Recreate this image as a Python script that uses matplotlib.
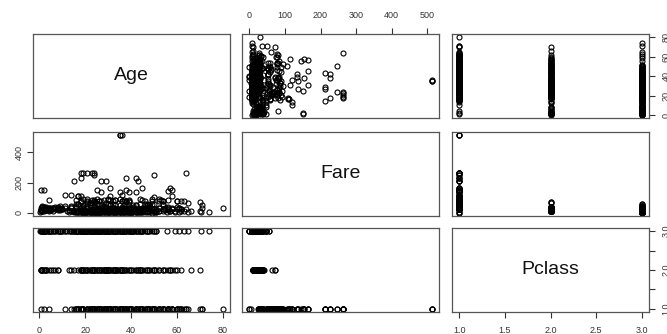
import matplotlib
matplotlib.use("Agg")
import matplotlib.pyplot as plt
import numpy as np

plt.rcParams['font.family'] = ['Liberation Sans', 'DejaVu Sans']

# Passengers with a known age (age, fare) per class
age_c1 = [35, 36, 35, 19, 23, 24, 64, 18, 21, 24, 50, 27, 29, 15, 43, 18, 38, 42,
          0.92, 2, 25, 4, 11, 14, 36, 31, 45, 58, 56, 38, 35, 39, 42, 80, 70, 71,
          71, 65, 62, 62, 60, 60, 61, 61, 63, 64, 58, 58, 56, 56, 56, 54, 54, 54,
          52, 52, 52, 50, 50, 50, 49, 49, 49, 49, 48, 48, 48, 47, 47, 47, 45, 45,
          44, 44, 44, 42, 42, 40, 40, 40, 39, 39, 39, 38, 38, 37, 37, 37, 36, 36,
          36, 35, 35, 35, 34, 33, 33, 33, 32, 32, 31, 31, 31, 31, 30, 30, 30, 30,
          29, 29, 28, 28, 27, 27, 26, 26, 25, 25, 25, 24, 24, 24, 23, 23, 22, 22,
          22, 21, 21, 19, 19, 19, 19, 18, 18, 17, 17, 17, 16, 16, 16, 46, 53, 41,
          33, 28, 26, 21, 43, 47, 57,
          17, 22, 24, 26, 28, 30, 32, 34, 36, 38,
          40, 42, 44, 46, 48, 50, 52, 54, 56, 58,
          60, 45, 39, 33, 27, 31, 47, 51, 55, 62]
fare_c1 = [512.3, 512.3, 512.3, 263, 263, 263, 263, 262.4, 262.4, 247.5, 247.5, 211.5,
           211.3, 211.3, 211.3, 227.5, 227.5, 227.5, 151.6, 151.6, 151.6, 81.9, 120,
           120, 120, 164.9, 164.9, 153.5, 146.5, 153.5, 135.6, 134.5, 134.5, 30, 71,
           49.5, 34.7, 62, 80, 26.6, 79.2, 75.3, 32.3, 33.5, 78, 26, 26.6, 29.7, 30.7,
           35.5, 83.2, 51.9, 77.3, 78.3, 30.5, 78.3, 93.5, 28.7, 55.9, 106.4, 25.9,
           56.9, 76.7, 89.1, 25.9, 39.6, 52, 25.6, 34, 52, 26.6, 83.5, 27.7, 58,
           90, 26.3, 52.6, 0, 27.7, 31, 0, 79.7, 83.2, 71.3, 80, 29.7, 53.1, 83.2,
           26.4, 75.2, 78.9, 26.3, 53.1, 90, 26.6, 5, 27.7, 53.1, 30.5, 76.3, 50.5,
           57, 83.2, 113.3, 31, 56.9, 86.5, 93.5, 30, 66.6, 47.1, 82.2, 30.5, 136.8,
           30, 78.9, 26, 55.4, 91.1, 49.5, 69.3, 79.2, 63.4, 82.3, 49.5, 55, 66.6,
           78, 61.4, 26.3, 30, 53.1, 91.1, 108.9, 79.7, 57, 108.9, 110.9, 39.4, 58,
           86.5, 61.2, 81.9, 52.6, 86.5, 39.6, 30.5, 89.1, 27.7, 51.5, 164.9,
           57, 66.6, 83.2, 78.9, 35.5, 27.8, 30.5, 26.6, 40.1, 79.7,
           27.7, 52, 26.6, 79.2, 52, 26, 30.5, 59.4, 26.6, 113.3,
           26.6, 30, 71.3, 86.5, 76.7, 26, 61.2, 26.6, 30, 26.6]

age_c2 = [0.67, 0.83, 0.83, 1, 1, 2, 2, 3, 3, 3, 4, 5, 6, 7, 8, 8, 13, 14, 15, 17,
          18, 18, 18, 19, 19, 20, 21, 21, 22, 23, 23, 24, 24, 24, 25, 25, 26, 27, 27,
          28, 28, 28, 29, 29, 30, 30, 30, 31, 32, 32, 32.5, 33, 34, 34, 34, 35, 35,
          36, 36, 36, 37, 39, 40, 41, 42, 42, 43, 44, 45, 46, 47, 48, 48, 50, 50, 51,
          52, 54, 54, 57, 57, 59, 60, 62, 66, 70, 26, 31, 38, 44, 23, 19, 29, 33,
          20, 22, 24, 25, 27, 29, 30, 31, 33, 35,
          37, 38, 39, 40, 43, 45, 47, 49, 50, 55,
          56, 58, 24, 28, 32, 36, 18, 21, 44, 52]
fare_c2 = [14.5, 29, 18.8, 39, 37, 26, 39, 26, 41.6, 18.8, 23, 27.8, 33, 26.3, 26.3,
           36.8, 19.5, 30.1, 13.5, 10.5, 11.5, 13, 73.5, 26, 36.8, 10.5, 73.5, 11.5,
           10.5, 13, 15.1, 13, 27, 65, 13, 26, 13, 10.5, 21, 13, 26, 33, 21, 26, 13,
           21, 12.4, 26.3, 10.5, 13, 30.1, 12.3, 13, 21, 23, 26, 10.5, 13, 26, 27.8,
           26, 26, 13, 19.5, 13, 27, 26.3, 26, 13.5, 26, 15, 13, 36.8, 10.5, 26, 12.5,
           13.5, 14, 26, 10.5, 13, 13.5, 39, 10.5, 10.5, 10.5, 26, 21, 13, 26, 21,
           13, 10.5, 26,
           13, 21, 26, 13, 26, 10.5, 13, 21, 26, 13,
           13, 13, 26, 26, 21, 26, 13, 26, 13, 16,
           16, 26, 15.7, 16, 26, 13, 13, 11.5, 13, 13]

age_c3 = [0.42, 0.75, 0.75, 1, 1, 1, 1, 2, 2, 2, 2, 2, 3, 3, 3, 4, 4, 4, 4, 4, 5,
          5, 6, 6, 7, 7, 8, 8, 9, 9, 9, 9, 10, 10, 11, 11, 12, 13, 14, 14, 14, 14.5,
          15, 15, 16, 16, 16, 16, 17, 17, 17, 18, 18, 18, 18, 19, 19, 19, 20, 20, 20,
          21, 21, 21, 22, 22, 22, 23, 23, 24, 24, 24, 25, 25, 25, 26, 26, 26, 27, 27,
          27, 28, 28, 28, 29, 29, 29, 30, 30, 30, 31, 31, 32, 32, 32, 33, 33, 34, 34,
          34, 35, 35, 36, 36, 37, 37, 38, 38, 39, 39, 39, 40, 40, 40, 41, 41, 41, 42,
          42, 43, 43, 44, 44, 45, 45, 45, 46, 47, 47, 48, 48, 49, 50, 51, 51, 55.5,
          59, 61, 63, 65, 70.5, 74, 40.5, 36, 25, 19, 20, 22, 24, 26, 28, 30, 32,
          18, 21, 23, 25, 27, 29, 31, 33, 35, 37, 20.5, 22.5, 24.5, 26.5, 28.5, 30.5,
          16, 17, 18, 19, 20, 21, 22, 23, 24, 25,
          26, 27, 28, 29, 30, 31, 32, 33, 34, 35,
          36, 37, 38, 39, 40, 42, 44, 45, 47, 50,
          18, 20, 22, 24, 26, 28, 30, 33, 36, 41]
fare_c3 = [8.5, 19.3, 19.3, 11.1, 12.2, 46.9, 20.6, 29.1, 31.3, 10.5, 27.9, 39.7,
           31.4, 15.9, 21.1, 16.7, 29.1, 31.3, 22, 11.1, 19.3, 31.4, 31.3, 12.5, 39.7,
           29.1, 21.1, 29.1, 31.3, 46.9, 27.9, 20.5, 27.9, 24.2, 46.9, 31.3, 11.2,
           7.2, 46.9, 11.2, 39.7, 14.5, 7.2, 14.5, 46.9, 7.8, 9.5, 34.4, 7.2, 14.5,
           8.7, 7.8, 14.5, 17.8, 9.4, 7.9, 8.1, 14.5, 7.9, 9.8, 8.1, 7.8, 8.1, 34.4,
           7.3, 7.8, 9.4, 7.6, 9.2, 7.5, 8.9, 16.7, 7.1, 7.7, 17.8, 7.9, 14.5, 56.5,
           7, 7.8, 11.1, 7.9, 8.1, 22.5, 7.8, 9.5, 10.5, 7.2, 8.7, 24.2, 7.8, 18, 7.9,
           8.1, 56.5, 7.9, 15.9, 6.5, 8.1, 14.4, 7.1, 8.1, 7.9, 15.6, 7.9, 9.6, 7.9,
           31.4, 7.9, 31.3, 29.1, 7.2, 9.5, 15.5, 7.1, 14.1, 39.7, 7.6, 8.4, 6.5, 8.1,
           8.1, 16.1, 7.8, 14.5, 27.9, 7.9, 7.3, 14.5, 7.9, 34.4, 0, 8.1, 7.8, 8.1,
           8.1, 7.3, 6.2, 9.6, 7.8, 7.8, 7.8, 14.5, 0, 0, 0, 7.2, 8.1, 7.9, 7.8, 7.9,
           8.1, 7.3, 7.8, 9.5, 7.9, 8.7, 7.2, 16.1, 8.1, 7.9, 7.8, 7.9, 7.8, 8.1,
           7.2, 7.9, 9.5, 7.8,
           7.8, 8.1, 7.2, 7.9, 9.2, 7.3, 8.1, 7.9, 7.1, 7.8,
           8.7, 7.9, 9.5, 7.2, 8.1, 7.9, 7.8, 8.1, 7.9, 7.3,
           24.2, 7.8, 8.7, 13.4, 7.9, 7.6, 7.9, 8.1, 14.5, 14.5,
           15.2, 7.2, 9.8, 19.3, 7.8, 15.5, 12.5, 20.5, 24.2, 20.2]

names = ['Age', 'Fare', 'Pclass']
data = {
    'Age': np.array(age_c1 + age_c2 + age_c3),
    'Fare': np.array(fare_c1 + fare_c2 + fare_c3),
    'Pclass': np.array([1] * len(age_c1) + [2] * len(age_c2) + [3] * len(age_c3)),
}
ticks = {
    'Age': ([0, 20, 40, 60, 80], ['0', '20', '40', '60', '80']),
    'Fare': ([0, 100, 200, 300, 400, 500], ['0', '100', '200', '300', '400', '500']),
    'Pclass': ([1, 1.5, 2, 2.5, 3], ['1.0', '1.5', '2.0', '2.5', '3.0']),
}
fare_left = ([0, 200, 400], ['0', '200', '400'])
pclass_right = ([1, 1.5, 2, 2.5, 3], ['1.0', '', '2.0', '', '3.0'])

# R-style 4% padding around the data range
lims = {}
for n in names:
    lo, hi = data[n].min(), data[n].max()
    pad = (hi - lo) * 0.04
    lims[n] = (lo - pad, hi + pad)

W, H = 667, 334
fig = plt.figure(figsize=(W / 100, H / 100), dpi=100)

col_left = [33, 242, 452]
row_top = [34, 132, 228]
pw, ph = 197, 84
frame = '#555555'
tick_col = '#333333'

for i, yn in enumerate(names):
    for j, xn in enumerate(names):
        ax = fig.add_axes([col_left[j] / W, 1 - (row_top[i] + ph) / H, pw / W, ph / H])
        ax.set_xlim(lims[xn])
        ax.set_ylim(lims[yn])
        for s in ax.spines.values():
            s.set_color(frame)
            s.set_linewidth(0.9)
        ax.set_xticks([])
        ax.set_yticks([])
        if i == j:
            ax.text(0.5, 0.5, yn, transform=ax.transAxes, ha='center', va='center',
                    fontsize=14, color='#111111')
        else:
            ax.plot(data[xn], data[yn], 'o', mfc='none', mec='black', ms=3.6, mew=0.8)

        tp = dict(length=4, width=0.8, color=tick_col, labelcolor=tick_col, labelsize=6.5)
        if i == 0 and j % 2 == 1:
            ax.set_xticks(ticks[xn][0], ticks[xn][1])
            ax.tick_params(axis='x', top=True, bottom=False, labeltop=True,
                           labelbottom=False, pad=6, **tp)
        if i == 2 and j % 2 == 0:
            ax.set_xticks(ticks[xn][0], ticks[xn][1])
            ax.tick_params(axis='x', pad=6, **tp)
        if j == 0 and i % 2 == 1:
            ax.set_yticks(fare_left[0], fare_left[1], rotation=90, va='center')
            ax.tick_params(axis='y', pad=2.5, **tp)
        if j == 2 and i % 2 == 0:
            tv, tl = pclass_right if yn == 'Pclass' else ticks[yn]
            ax.set_yticks(tv, tl, rotation=90, va='center')
            ax.tick_params(axis='y', left=False, right=True, labelleft=False,
                           labelright=True, pad=5, **tp)

fig.savefig('out.png', dpi=100)
